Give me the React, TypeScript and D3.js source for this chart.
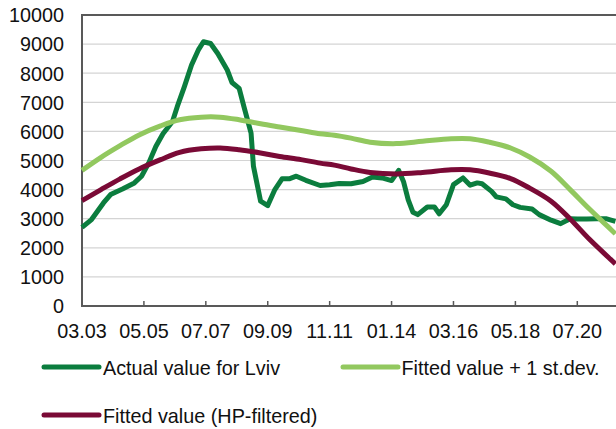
import React, { useEffect, useRef } from "react";
import * as d3 from "d3";

// months counted from 03.2003
const actualMonths = [0, 4, 9, 12, 17, 22, 25, 28, 31, 34, 38, 40, 43, 46, 49, 51, 54, 57, 61, 63, 66, 68, 71, 72, 74, 75, 78, 81, 84, 87, 90, 94, 100, 104, 108, 113, 118, 122, 126, 130, 133, 135, 137, 139, 141, 145, 148, 150, 153, 156, 160, 163, 166, 168, 172, 174, 178, 181, 184, 189, 192, 197, 201, 205, 208, 212, 216, 220, 224];
const actualValues = [2700, 2970, 3540, 3830, 4020, 4230, 4460, 4910, 5480, 5920, 6340, 6850, 7540, 8280, 8820, 9080, 9020, 8680, 8110, 7680, 7480, 6850, 5940, 4800, 4000, 3600, 3450, 4000, 4370, 4370, 4460, 4320, 4140, 4170, 4210, 4200, 4280, 4430, 4400, 4310, 4660, 4280, 3650, 3220, 3140, 3400, 3400, 3170, 3480, 4170, 4400, 4150, 4230, 4200, 3940, 3750, 3680, 3480, 3390, 3330, 3140, 2950, 2830, 3000, 2990, 2990, 3000, 3000, 2910];

const fittedMonths = [0, 8, 16, 24, 33, 41, 50, 58, 66, 75, 83, 92, 100, 106, 113, 121, 132, 143, 155, 163, 171, 180, 188, 197, 205, 213, 222, 224];
const upperValues = [4660, 5110, 5510, 5880, 6190, 6400, 6490, 6490, 6400, 6260, 6150, 6030, 5920, 5870, 5770, 5630, 5580, 5660, 5750, 5750, 5630, 5430, 5120, 4630, 4000, 3340, 2640, 2480];
const hpValues = [3620, 4000, 4370, 4710, 5030, 5280, 5400, 5430, 5370, 5260, 5140, 5030, 4910, 4840, 4710, 4590, 4540, 4590, 4680, 4680, 4570, 4380, 4050, 3600, 2990, 2300, 1600, 1450];

const tickMonths = [0, 26, 52, 78, 104, 130, 156, 182, 208];
const tickLabels = ["03.03", "05.05", "07.07", "09.09", "11.11", "01.14", "03.16", "05.18", "07.20"];
const yTicks = [0, 1000, 2000, 3000, 4000, 5000, 6000, 7000, 8000, 9000, 10000];

const seriesNames = ["Actual value for Lviv", "Fitted value + 1 st.dev.", "Fitted value (HP-filtered)"];
const colors = ["#0b7d3e", "#92c85f", "#7a0a36"];

const App = () => {
  const chartRef = useRef<SVGSVGElement>(null);

  useEffect(() => {
    const svg = d3.select(chartRef.current);
    svg.selectAll("*").remove();

    const left = 82, top = 15, bottom = 306;
    const font = "'Liberation Sans', Arial, sans-serif";
    const fs = 19.8;

    const x = d3.scaleLinear().domain([0, 208]).range([left, 577.3]);
    const y = d3.scaleLinear().domain([0, 10000]).range([bottom, top]);
    const right = x(226);

    // gridlines
    svg.append("g")
      .selectAll("line")
      .data(yTicks.slice(1))
      .enter().append("line")
      .attr("x1", left).attr("x2", right)
      .attr("y1", d => y(d)).attr("y2", d => y(d))
      .attr("stroke", "#d4d4d4").attr("stroke-width", 1.2);

    // y tick labels
    svg.append("g")
      .selectAll("text")
      .data(yTicks)
      .enter().append("text")
      .attr("x", 64)
      .attr("y", d => y(d) + 7.3)
      .attr("text-anchor", "end")
      .attr("font-family", font).attr("font-size", fs)
      .attr("fill", "#111")
      .text(d => String(d));

    // x ticks + labels
    const xg = svg.append("g");
    xg.selectAll("line")
      .data(tickMonths)
      .enter().append("line")
      .attr("x1", d => x(d)).attr("x2", d => x(d))
      .attr("y1", bottom).attr("y2", bottom - 5)
      .attr("stroke", "#595959").attr("stroke-width", 1.5);
    xg.selectAll("text")
      .data(tickMonths)
      .enter().append("text")
      .attr("x", d => x(d))
      .attr("y", 337.5)
      .attr("text-anchor", "middle")
      .attr("font-family", font).attr("font-size", fs)
      .attr("fill", "#111")
      .text((d, i) => tickLabels[i]);

    // plot border
    svg.append("rect")
      .attr("x", left).attr("y", top)
      .attr("width", right - left).attr("height", bottom - top)
      .attr("fill", "none")
      .attr("stroke", "#595959").attr("stroke-width", 2);

    // series
    const actualLine = d3.line<number>()
      .x((d, i) => x(actualMonths[i]))
      .y(d => y(d));
    const smoothLine = d3.line<number>()
      .x((d, i) => x(fittedMonths[i]))
      .y(d => y(d))
      .curve(d3.curveCatmullRom.alpha(0.5));

    const series = [
      { values: actualValues, gen: actualLine },
      { values: upperValues, gen: smoothLine },
      { values: hpValues, gen: smoothLine },
    ];
    series.forEach((s, i) => {
      svg.append("path")
        .attr("d", s.gen(s.values))
        .attr("fill", "none")
        .attr("stroke", colors[i])
        .attr("stroke-width", 5)
        .attr("stroke-linejoin", "round");
    });

    // legend
    const legendPos = [
      { lx: 44, ly: 367, tx: 103 },
      { lx: 343, ly: 367, tx: 401.5 },
      { lx: 44, ly: 415, tx: 103 },
    ];
    legendPos.forEach((p, i) => {
      svg.append("line")
        .attr("x1", p.lx).attr("x2", p.lx + 55)
        .attr("y1", p.ly).attr("y2", p.ly)
        .attr("stroke", colors[i]).attr("stroke-width", 5)
        .attr("stroke-linecap", "round");
      svg.append("text")
        .attr("x", p.tx).attr("y", p.ly + 8)
        .attr("font-family", font).attr("font-size", fs)
        .attr("fill", "#111")
        .text(seriesNames[i]);
    });
  }, []);

  return (
    <svg ref={chartRef} width={616} height={429}
      style={{ position: "absolute", left: 0, top: 0, background: "#fff" }} />
  );
};

export default App;
